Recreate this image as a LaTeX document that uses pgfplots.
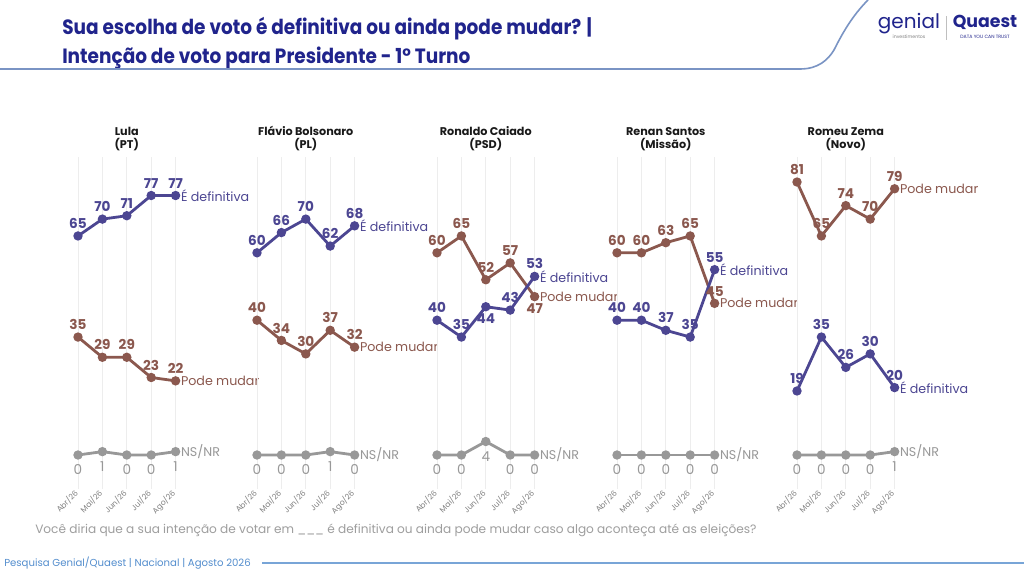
\documentclass[border=0pt]{standalone}
\usepackage{pgfplots}
\pgfplotsset{compat=1.18}
\usepackage{fontspec}
\setmainfont{Poppins}
\newfontfamily\titlefont[FakeStretch=0.895]{Poppins}
\definecolor{defc}{RGB}{76,70,146}
\definecolor{podec}{RGB}{139,88,78}
\definecolor{nsc}{RGB}{152,152,152}
\definecolor{titlec}{RGB}{32,36,140}
\definecolor{footc}{RGB}{84,142,206}
\definecolor{linec}{RGB}{122,148,196}
\newcommand{\lblfont}{\fontsize{10.2}{11}\selectfont\bfseries}
\newcommand{\serfont}{\fontsize{9.5}{10}\selectfont}
\tikzset{endlbl/.style={pos=1, anchor=west, inner sep=1pt, xshift=2pt, font=\serfont, text=#1}}
\pgfplotsset{
 panel/.style={
   anchor=origin, x=18.3pt, y=2.5275pt,
   xmin=-0.25, xmax=4.25, ymin=-10, ymax=88.5,
   axis line style={draw=none}, clip=false,
   xtick={0,...,4}, xticklabels={Abr/26,Mai/26,Jun/26,Jul/26,Ago/26},
   ytick=\empty, major tick length=0pt,
   xmajorgrids, grid style={black!7, line width=0.6pt},
   xticklabel style={rotate=45, anchor=east, font=\fontsize{5.8}{6}\selectfont, text=black!50, inner sep=1pt, xshift=-1.5pt, yshift=-1pt},
   /pgf/number format/assume math mode=true,
   title style={align=center, font=\fontsize{8.4}{10}\selectfont\bfseries, text=black!90, yshift=-5pt},
 },
 ser/.style={line width=2.1pt, color=#1, mark=*, mark size=2.4pt, mark options={solid},
   nodes near coords, point meta=y,
   visualization depends on={value \thisrow{a}\as\anc},
   every node near coord/.append style={anchor=\anc, outer sep=4.5pt, inner sep=1pt, font=\lblfont, text=#1},
 },
 nsser/.style={line width=2.1pt, color=nsc, mark=*, mark size=2.4pt, mark options={solid},
   nodes near coords, point meta=y,
   visualization depends on={value \thisrow{a}\as\anc},
   every node near coord/.append style={anchor=\anc, outer sep=6.5pt, inner sep=1pt, font=\fontsize{10.2}{11}\selectfont, text=nsc},
 },
}
\begin{document}
\begin{tikzpicture}[x=0.75pt,y=0.75pt]
\useasboundingbox (0,0) rectangle (1024,572);
\fill[white] (0,0) rectangle (1024,572);
% title
\node[anchor=north west, align=left, text=titlec, font=\fontsize{15.5}{21.5}\titlefont\bfseries, inner sep=0pt] at (62,555) {Sua escolha de voto é definitiva ou ainda pode mudar? |\\Intenção de voto para Presidente - 1° Turno};
\draw[line width=1.2pt, color=linec] (0,503) -- (800,503) .. controls (818,503) and (828,512) .. (834,522) .. controls (842,538) and (852,556) .. (868,572);
% logo
\node[text=titlec, font=\fontsize{15}{15}\selectfont] at (909,548) {genial};
\node[text=black!50, font=\fontsize{3.5}{4}\selectfont] at (909,535) {investimentos};
\draw[black!25, line width=0.5pt] (946,532) -- (946,556);
\node[text=titlec, font=\fontsize{13}{13}\selectfont\bfseries] at (985,550) {Quaest};
\node[text=titlec, font=\fontsize{3.5}{4}\selectfont] at (985,535) {DATA YOU CAN TRUST};
% question and footer
\node[anchor=west, text=black!38, font=\fontsize{9.1}{10}\selectfont, inner sep=0pt] at (35,42) {Você diria que a sua intenção de votar em \_\_\_ é definitiva ou ainda pode mudar caso algo aconteça até as eleições?};
\node[anchor=west, text=footc, font=\fontsize{7.6}{8}\selectfont, inner sep=0pt] at (4,9) {Pesquisa Genial/Quaest | Nacional | Agosto 2026};
\draw[color={rgb,255:red,120;green,165;blue,215}, line width=1.5pt] (262,9) -- (1024,9);
% panel origins
\coordinate (P1) at (78,117);
\coordinate (P2) at (257,117);
\coordinate (P3) at (437,117);
\coordinate (P4) at (617,117);
\coordinate (P5) at (797,117);

\begin{axis}[panel, at={(P1)}, title={Lula\\(PT)}]
\addplot[ser=defc] table {
x y a
0 65 -90
1 70 -90
2 71 -90
3 77 -90
4 77 -90
} node[endlbl=defc] {É definitiva};
\addplot[ser=podec] table {
x y a
0 35 -90
1 29 -90
2 29 -90
3 23 -90
4 22 -90
} node[endlbl=podec] {Pode mudar};
\addplot[nsser] table {
x y a
0 0 90
1 1 90
2 0 90
3 0 90
4 1 90
} node[endlbl=nsc] {NS/NR};
\end{axis}

\begin{axis}[panel, at={(P2)}, title={Flávio Bolsonaro\\(PL)}]
\addplot[ser=defc] table {
x y a
0 60 -90
1 66 -90
2 70 -90
3 62 -90
4 68 -90
} node[endlbl=defc] {É definitiva};
\addplot[ser=podec] table {
x y a
0 40 -90
1 34 -90
2 30 -90
3 37 -90
4 32 -90
} node[endlbl=podec] {Pode mudar};
\addplot[nsser] table {
x y a
0 0 90
1 0 90
2 0 90
3 1 90
4 0 90
} node[endlbl=nsc] {NS/NR};
\end{axis}

\begin{axis}[panel, at={(P3)}, title={Ronaldo Caiado\\(PSD)}]
\addplot[ser=podec] table {
x y a
0 60 -90
1 65 -90
2 52 -90
3 57 -90
4 47 90
} node[endlbl=podec] {Pode mudar};
\addplot[ser=defc] table {
x y a
0 40 -90
1 35 -90
2 44 90
3 43 -90
4 53 -90
} node[endlbl=defc] {É definitiva};
\addplot[nsser] table {
x y a
0 0 90
1 0 90
2 4 90
3 0 90
4 0 90
} node[endlbl=nsc] {NS/NR};
\end{axis}

\begin{axis}[panel, at={(P4)}, title={Renan Santos\\(Missão)}]
\addplot[ser=podec] table {
x y a
0 60 -90
1 60 -90
2 63 -90
3 65 -90
4 45 -90
} node[endlbl=podec] {Pode mudar};
\addplot[ser=defc] table {
x y a
0 40 -90
1 40 -90
2 37 -90
3 35 -90
4 55 -90
} node[endlbl=defc] {É definitiva};
\addplot[nsser] table {
x y a
0 0 90
1 0 90
2 0 90
3 0 90
4 0 90
} node[endlbl=nsc] {NS/NR};
\end{axis}

\begin{axis}[panel, at={(P5)}, title={Romeu Zema\\(Novo)}]
\addplot[ser=podec] table {
x y a
0 81 -90
1 65 -90
2 74 -90
3 70 -90
4 79 -90
} node[endlbl=podec] {Pode mudar};
\addplot[ser=defc] table {
x y a
0 19 -90
1 35 -90
2 26 -90
3 30 -90
4 20 -90
} node[endlbl=defc] {É definitiva};
\addplot[nsser] table {
x y a
0 0 90
1 0 90
2 0 90
3 0 90
4 1 90
} node[endlbl=nsc] {NS/NR};
\end{axis}
\end{tikzpicture}
\end{document}
